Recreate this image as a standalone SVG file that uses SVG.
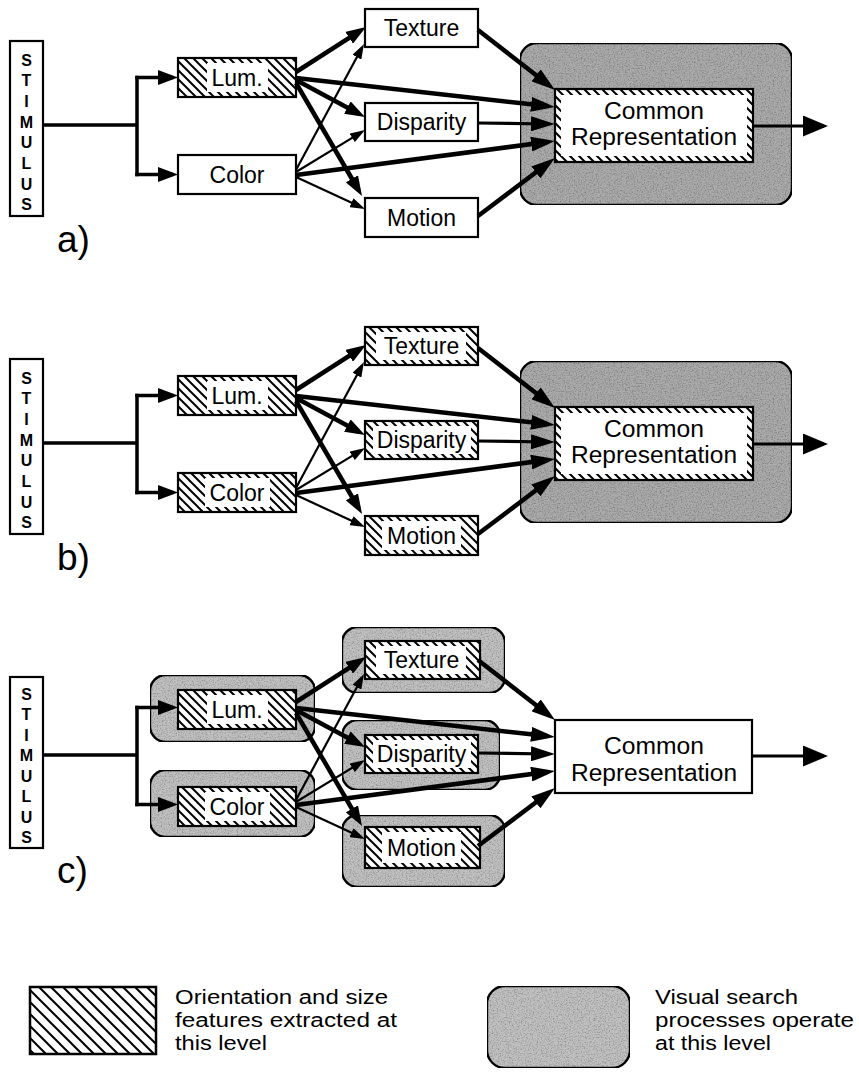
<svg xmlns="http://www.w3.org/2000/svg" xmlns:xlink="http://www.w3.org/1999/xlink" width="859" height="1072" viewBox="0 0 859 1072">
  <style>
    text { font-family: "Liberation Sans", Arial, Helvetica, sans-serif; fill: #000; }
    .lbl { font-size: 23px; text-anchor: middle; }
    .cr { font-size: 23px; text-anchor: middle; }
    .stim { font-size: 16px; font-weight: bold; text-anchor: middle; }
    .tag { font-size: 37px; }
    .key { font-size: 20px; }
    .box { fill: #fff; stroke: #000; stroke-width: 2.2; }
    .hatch { fill: url(#hatch); stroke: #000; stroke-width: 2.2; }
    .knock { fill: #fff; stroke: none; }
    .halo { fill: #acacac; stroke: #000; stroke-width: 2.4; filter: url(#grain); }
    .halo-lt { fill: #c2c2c2; stroke: #000; stroke-width: 2.4; filter: url(#grain); }
    .ln { fill: none; stroke: #000; }
    .thick { stroke-width: 4.5; }
    .mid { stroke-width: 3.2; }
    .thin { stroke-width: 2.2; }
    .trunk { stroke-width: 3.5; }
  </style>
  <defs>
    <!-- diagonal hatching used for the orientation / size level -->
    <pattern id="hatch" width="9" height="9" patternUnits="userSpaceOnUse">
      <rect width="9" height="9" fill="#fff"/>
      <path d="M-1,-1 L10,10 M-1,8 L1,10 M8,-1 L10,1" stroke="#000" stroke-width="2"/>
    </pattern>
    <pattern id="hatch-wide" width="12" height="12" patternUnits="userSpaceOnUse">
      <rect width="12" height="12" fill="#fff"/>
      <path d="M-1,-1 L13,13 M-1,11 L1,13 M11,-1 L13,1" stroke="#000" stroke-width="2"/>
    </pattern>
    <!-- screened grey for the visual-search level -->
    <filter id="grain" x="0" y="0" width="1" height="1">
      <feTurbulence type="fractalNoise" baseFrequency="0.75" numOctaves="2" seed="7" result="noise"/>
      <feColorMatrix in="noise" type="matrix" values="0 0 0 0 0  0 0 0 0 0  0 0 0 0 0  0 0 0 -1.2 0.7" result="specks"/>
      <feComposite in="specks" in2="SourceGraphic" operator="in" result="clipped"/>
      <feMerge>
        <feMergeNode in="SourceGraphic"/>
        <feMergeNode in="clipped"/>
      </feMerge>
    </filter>
    <marker id="ah-l" markerUnits="userSpaceOnUse" markerWidth="20" markerHeight="14" refX="13" refY="7" orient="auto">
      <path d="M0,0 L20,7 L0,14 z" fill="#000"/>
    </marker>
    <marker id="ah-s" markerUnits="userSpaceOnUse" markerWidth="15" markerHeight="10" refX="11" refY="5" orient="auto">
      <path d="M0,0 L15,5 L0,10 z" fill="#000"/>
    </marker>
    <marker id="ah-cr" markerUnits="userSpaceOnUse" markerWidth="24" markerHeight="15" refX="16" refY="7.5" orient="auto">
      <path d="M0,0 L24,7.5 L0,15 z" fill="#000"/>
    </marker>
    <marker id="ah-out" markerUnits="userSpaceOnUse" markerWidth="25" markerHeight="21" refX="21" refY="10.5" orient="auto">
      <path d="M0,0 L25,10.5 L0,21 z" fill="#000"/>
    </marker>
    <marker id="ah-st" markerUnits="userSpaceOnUse" markerWidth="20" markerHeight="15" refX="15" refY="7.5" orient="auto">
      <path d="M0,0 L20,7.5 L0,15 z" fill="#000"/>
    </marker>
  </defs>

  <rect width="859" height="1072" fill="#fff"/>

  <!-- ===== Panel a ===== -->
  <g id="panel-a">
    <g id="a-stimulus">
      <rect class="box" x="10" y="41" width="33" height="175"/>
      <text class="stim" x="26.5" y="65.5">S</text>
      <text class="stim" x="26.5" y="86.2">T</text>
      <text class="stim" x="26.5" y="106.9">I</text>
      <text class="stim" x="26.5" y="127.6">M</text>
      <text class="stim" x="26.5" y="148.3">U</text>
      <text class="stim" x="26.5" y="169">L</text>
      <text class="stim" x="26.5" y="189.7">U</text>
      <text class="stim" x="26.5" y="210.4">S</text>
    </g>
    <g id="a-lum">
      <rect class="hatch" x="178" y="58" width="118" height="39"/>
      <rect class="knock" x="207" y="63" width="61" height="29"/>
      <text class="lbl" x="237" y="86">Lum.</text>
    </g>
    <g id="a-color">
      <rect class="box" x="178" y="155" width="118" height="39"/>
      <text class="lbl" x="237" y="183">Color</text>
    </g>
    <g id="a-texture">
      <rect class="box" x="365" y="9" width="113" height="38"/>
      <text class="lbl" x="421.5" y="36">Texture</text>
    </g>
    <g id="a-disparity">
      <rect class="box" x="365" y="103" width="113" height="38"/>
      <text class="lbl" x="421.5" y="130">Disparity</text>
    </g>
    <g id="a-motion">
      <rect class="box" x="365" y="198" width="113" height="39"/>
      <text class="lbl" x="421.5" y="225.5">Motion</text>
    </g>
    <g id="a-common">
      <rect class="halo" x="520" y="43" width="272" height="162" rx="17"/>
      <rect class="hatch" x="555" y="89" width="198" height="73"/>
      <rect class="knock" x="561" y="95" width="186" height="61"/>
      <text class="cr" x="654" y="118.5" textLength="100" lengthAdjust="spacingAndGlyphs">Common</text>
      <text class="cr" x="654" y="144.5" textLength="166" lengthAdjust="spacingAndGlyphs">Representation</text>
    </g>
    <text class="tag" x="57" y="252">a)</text>
  </g>

  <!-- ===== Panel b ===== -->
  <g id="panel-b" transform="translate(0,318)">
    <g id="b-stimulus">
      <rect class="box" x="10" y="41" width="33" height="175"/>
      <text class="stim" x="26.5" y="65.5">S</text>
      <text class="stim" x="26.5" y="86.2">T</text>
      <text class="stim" x="26.5" y="106.9">I</text>
      <text class="stim" x="26.5" y="127.6">M</text>
      <text class="stim" x="26.5" y="148.3">U</text>
      <text class="stim" x="26.5" y="169">L</text>
      <text class="stim" x="26.5" y="189.7">U</text>
      <text class="stim" x="26.5" y="210.4">S</text>
    </g>
    <g id="b-lum">
      <rect class="hatch" x="178" y="58" width="118" height="39"/>
      <rect class="knock" x="207" y="63" width="61" height="29"/>
      <text class="lbl" x="237" y="86">Lum.</text>
    </g>
    <g id="b-color">
      <rect class="hatch" x="178" y="155" width="118" height="39"/>
      <rect class="knock" x="205" y="160" width="65" height="29"/>
      <text class="lbl" x="237" y="183">Color</text>
    </g>
    <g id="b-texture">
      <rect class="hatch" x="365" y="9" width="113" height="38"/>
      <rect class="knock" x="376" y="14" width="90" height="28"/>
      <text class="lbl" x="421.5" y="36">Texture</text>
    </g>
    <g id="b-disparity">
      <rect class="hatch" x="365" y="103" width="113" height="38"/>
      <rect class="knock" x="373" y="108" width="98" height="28"/>
      <text class="lbl" x="421.5" y="130">Disparity</text>
    </g>
    <g id="b-motion">
      <rect class="hatch" x="365" y="198" width="113" height="39"/>
      <rect class="knock" x="382" y="203" width="79" height="29"/>
      <text class="lbl" x="421.5" y="225.5">Motion</text>
    </g>
    <g id="b-common">
      <rect class="halo" x="520" y="43" width="272" height="162" rx="17"/>
      <rect class="hatch" x="555" y="89" width="198" height="73"/>
      <rect class="knock" x="561" y="95" width="186" height="61"/>
      <text class="cr" x="654" y="118.5" textLength="100" lengthAdjust="spacingAndGlyphs">Common</text>
      <text class="cr" x="654" y="144.5" textLength="166" lengthAdjust="spacingAndGlyphs">Representation</text>
    </g>
    <text class="tag" x="57" y="252">b)</text>
  </g>

  <!-- ===== Panel c ===== -->
  <g id="panel-c" transform="translate(0,632)">
    <g id="c-stimulus">
      <rect class="box" x="10" y="45" width="33" height="171"/>
      <text class="stim" x="26.5" y="67.5">S</text>
      <text class="stim" x="26.5" y="88">T</text>
      <text class="stim" x="26.5" y="108.5">I</text>
      <text class="stim" x="26.5" y="129">M</text>
      <text class="stim" x="26.5" y="149.5">U</text>
      <text class="stim" x="26.5" y="170">L</text>
      <text class="stim" x="26.5" y="190.5">U</text>
      <text class="stim" x="26.5" y="211">S</text>
    </g>
    <g id="c-lum">
      <rect class="halo-lt" x="150" y="43" width="165" height="67" rx="16"/>
      <rect class="hatch" x="178" y="58" width="118" height="39"/>
      <rect class="knock" x="207" y="63" width="61" height="29"/>
      <text class="lbl" x="237" y="86">Lum.</text>
    </g>
    <g id="c-color">
      <rect class="halo-lt" x="150" y="138" width="165" height="67" rx="16"/>
      <rect class="hatch" x="178" y="155" width="118" height="39"/>
      <rect class="knock" x="205" y="160" width="65" height="29"/>
      <text class="lbl" x="237" y="183">Color</text>
    </g>
    <g id="c-texture">
      <rect class="halo-lt" x="342" y="-5" width="163" height="66" rx="16"/>
      <rect class="hatch" x="365" y="9" width="115" height="38"/>
      <rect class="knock" x="376" y="14" width="90" height="28"/>
      <text class="lbl" x="421.5" y="36">Texture</text>
    </g>
    <g id="c-disparity">
      <rect class="halo-lt" x="342" y="88" width="158" height="70" rx="16"/>
      <rect class="hatch" x="365" y="103" width="113" height="38"/>
      <rect class="knock" x="373" y="108" width="98" height="28"/>
      <text class="lbl" x="421.5" y="130">Disparity</text>
    </g>
    <g id="c-motion">
      <rect class="halo-lt" x="342" y="183" width="163" height="72" rx="16"/>
      <rect class="hatch" x="365" y="195" width="115" height="41"/>
      <rect class="knock" x="382" y="200" width="79" height="31"/>
      <text class="lbl" x="421.5" y="224">Motion</text>
    </g>
    <g id="c-common">
      <rect class="box" x="555" y="88" width="197" height="73"/>
      <text class="cr" x="654" y="122" textLength="100" lengthAdjust="spacingAndGlyphs">Common</text>
      <text class="cr" x="654" y="149" textLength="166" lengthAdjust="spacingAndGlyphs">Representation</text>
    </g>
    <text class="tag" x="57" y="251">c)</text>
  </g>

  <!-- ===== Connectors (drawn in panel-a coordinates, repeated for b and c) ===== -->
  <g id="connectors">
    <g id="links-a">
      <path class="ln trunk" d="M43,125 H137 M137,75.75 V176.25"/>
      <path class="ln trunk" marker-end="url(#ah-st)" d="M135.25,77.5 H173"/>
      <path class="ln trunk" marker-end="url(#ah-st)" d="M135.25,174.5 H173"/>
      <!-- Lum. outputs -->
      <path class="ln thick" marker-end="url(#ah-l)" d="M296,72 L360.1,30.8"/>
      <path class="ln thick" marker-end="url(#ah-cr)" d="M296,78 L547,106.1"/>
      <path class="ln thick" marker-end="url(#ah-l)" d="M296,80 L358.8,113.7"/>
      <path class="ln thick" marker-end="url(#ah-l)" d="M296,83 L358.5,190"/>
      <!-- Color outputs -->
      <path class="ln thin" marker-end="url(#ah-s)" d="M296,170 L362.1,47.5"/>
      <path class="ln thin" marker-end="url(#ah-s)" d="M296,172 L361.6,132.1"/>
      <path class="ln thick" marker-end="url(#ah-cr)" d="M296,175 L547.1,142"/>
      <path class="ln thin" marker-end="url(#ah-s)" d="M296,177 L361.4,207.3"/>
      <!-- second-level outputs -->
      <path class="ln thick" marker-end="url(#ah-cr)" d="M478,30 L548.7,85.1"/>
      <path class="ln mid" marker-end="url(#ah-cr)" d="M478,123 L547,124"/>
      <path class="ln thick" marker-end="url(#ah-cr)" d="M478,216 L548.6,162.8"/>
      <!-- result -->
      <path class="ln mid" marker-end="url(#ah-out)" d="M753,126 H824"/>
    </g>
    <use xlink:href="#links-a" href="#links-a" transform="translate(0,318)"/>
    <use xlink:href="#links-a" href="#links-a" transform="translate(0,630)"/>
  </g>

  <!-- ===== Key ===== -->
  <g id="key-hatch">
    <rect x="30" y="987" width="126" height="67" fill="url(#hatch-wide)" stroke="#000" stroke-width="2.5"/>
    <text class="key" x="175" y="1004" textLength="213" lengthAdjust="spacingAndGlyphs">Orientation and size</text>
    <text class="key" x="175" y="1027" textLength="222" lengthAdjust="spacingAndGlyphs">features extracted at</text>
    <text class="key" x="175" y="1050" textLength="92" lengthAdjust="spacingAndGlyphs">this level</text>
  </g>
  <g id="key-search">
    <rect class="halo-lt" x="487" y="986" width="143" height="82" rx="18"/>
    <text class="key" x="655" y="1004" textLength="143" lengthAdjust="spacingAndGlyphs">Visual search</text>
    <text class="key" x="655" y="1027" textLength="199" lengthAdjust="spacingAndGlyphs">processes operate</text>
    <text class="key" x="655" y="1050" textLength="116" lengthAdjust="spacingAndGlyphs">at this level</text>
  </g>
</svg>
